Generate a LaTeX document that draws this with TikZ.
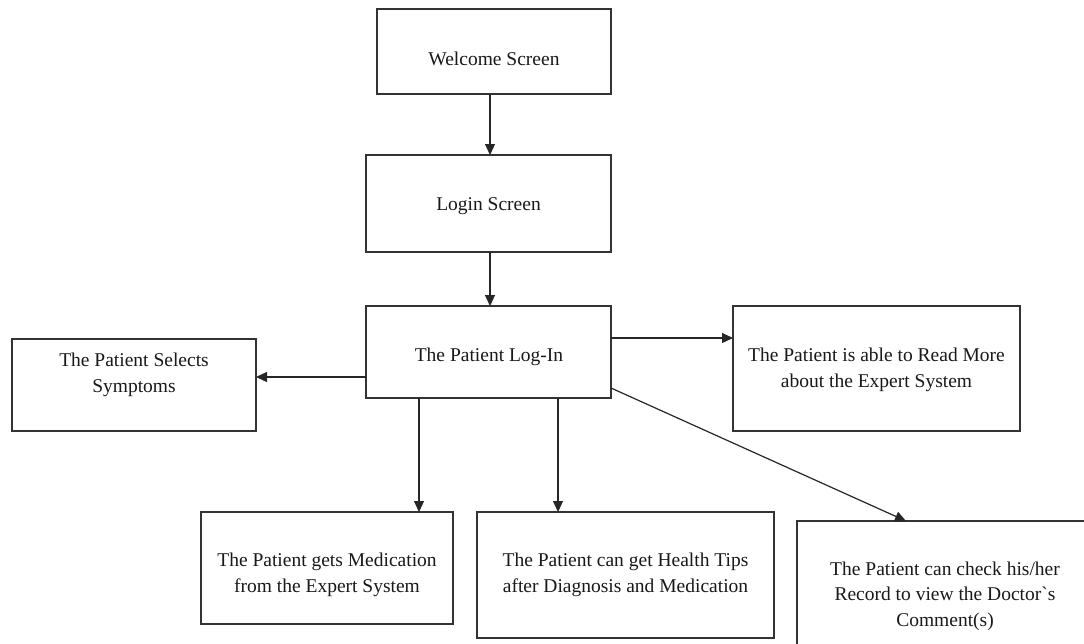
\documentclass[tikz,border=0pt]{standalone}
\usepackage{fontspec}
\setmainfont{Liberation Serif}
\newfontfamily\rawserif[Ligatures=TeXOff]{Liberation Serif}
\usetikzlibrary{arrows.meta,calc}
\begin{document}
\begin{tikzpicture}[x=1pt,y=-1pt,
  box/.style={draw=black!80, line width=1.3pt, inner sep=0pt, outer sep=0pt},
  txt/.style={align=center, font=\fontsize{19.5}{25.5}\selectfont, text=black!90, inner sep=0pt},
  arr/.style={line width=1.2pt, draw=black!85, -{Triangle[length=11pt,width=10pt]}}]
\useasboundingbox (0,0) rectangle (1084,643);
\fill[white] (0,0) rectangle (1084,643);
% boxes
\node[box, minimum width=234pt, minimum height=85pt]  (welcome)  at (494,51.5) {};
\node[box, minimum width=245pt, minimum height=97pt]  (login)    at (488.5,203.5) {};
\node[box, minimum width=245pt, minimum height=92pt]  (patient)  at (488.5,352) {};
\node[box, minimum width=244pt, minimum height=92pt]  (symp)     at (134,385) {};
\node[box, minimum width=287pt, minimum height=125pt] (readmore) at (876.5,368.5) {};
\node[box, minimum width=252pt, minimum height=112pt] (med)      at (327,568) {};
\node[box, minimum width=297pt, minimum height=126pt] (health)   at (625.5,575) {};
\node[box, minimum width=296pt, minimum height=148pt] (check)    at (945,595) {};
% texts
\node[txt] (twelcome)  at (494,59) {Welcome Screen};
\node[txt] (tlogin)    at (488.5,206) {Login Screen};
\node[txt] (tpatient)  at (489,357) {The Patient Log-In};
\node[txt] (tsymp)     at (134,375) {The Patient Selects\\Symptoms};
\node[txt] (treadmore) at (876.5,370) {The Patient is able to Read More\\about the Expert System};
\node[txt] (tmed)      at (327,575) {The Patient gets Medication\\from the Expert System};
\node[txt] (thealth)   at (625.5,575) {The Patient can get Health Tips\\after Diagnosis and Medication};
\node[txt] (tcheck)    at (945,596) {The Patient can check his/her\\Record to view the Doctor{\rawserif`}s\\Comment(s)};
% connectors
\draw[arr] ([xshift=-4pt]welcome.south) -- ([xshift=-4pt]welcome.south |- login.north);
\draw[arr] ([xshift=1.5pt]login.south) -- ([xshift=1.5pt]login.south |- patient.north);
\draw[arr] ([yshift=-25pt]patient.west) -- ([yshift=-25pt]patient.west -| symp.east);
\draw[arr] ([yshift=14pt]patient.east) -- ([yshift=14pt]patient.east -| readmore.west);
\draw[arr] ([xshift=53pt]patient.south west) -- ([xshift=53pt]patient.south west |- med.north);
\draw[arr] ([xshift=192pt]patient.south west) -- ([xshift=192pt]patient.south west |- health.north);
\draw[arr] ([yshift=-36pt]patient.east) -- ([xshift=-39pt]check.north);
\end{tikzpicture}
\end{document}
